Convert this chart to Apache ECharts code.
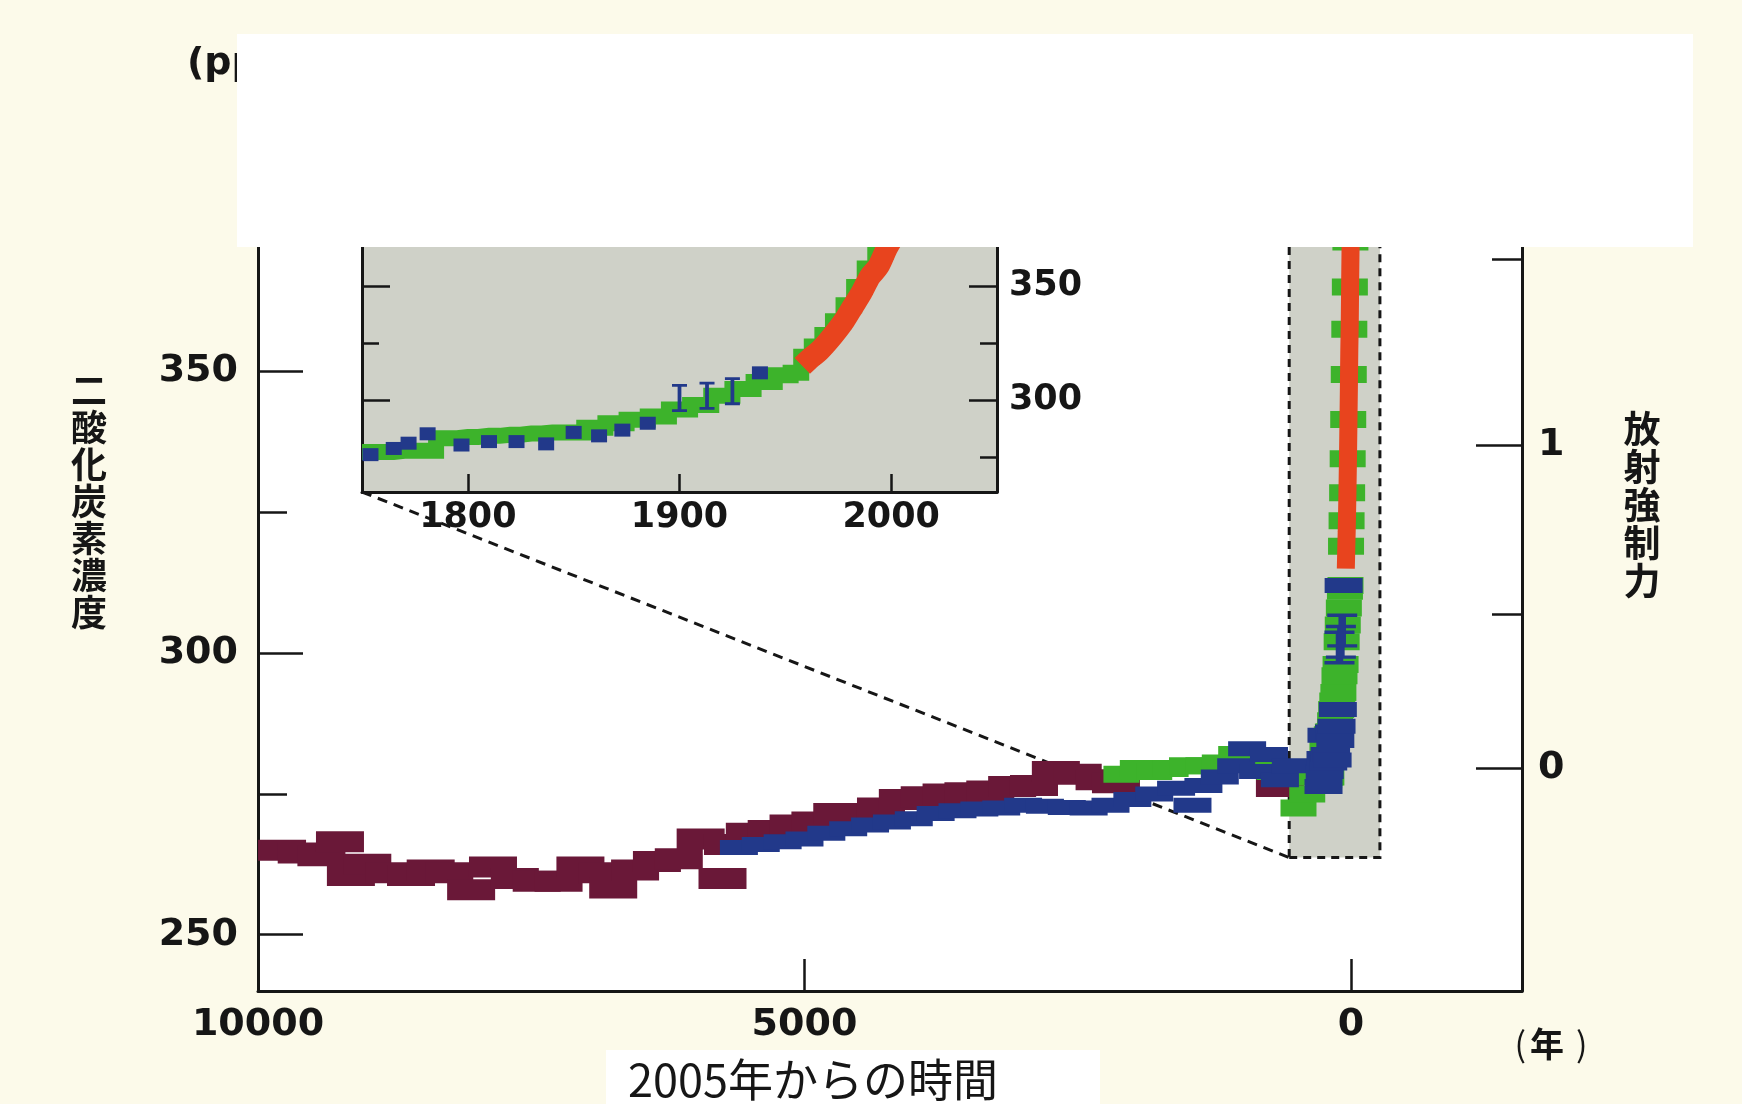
<!DOCTYPE html>
<html>
<head>
<meta charset="utf-8">
<script src="https://cdn.jsdelivr.net/npm/echarts@6/dist/echarts.min.js"></script>
<style>
  html, body { margin: 0; padding: 0; background: #fcfaea; }
  #chart { width: 1742px; height: 1104px; }
</style>
</head>
<body>
<div id="chart"></div>
<script>
// ice core CO2, x = years before 2005
const maroonYears = [9780, 9600, 9420, 9250, 9150, 9000, 8800, 8600, 8420, 8250, 8050, 7850, 7650, 7450, 7250, 7050,
  6850, 6750, 6550, 6350, 6150, 5950, 5750, 5700, 5500, 5300, 5100, 4900, 4700, 4500, 4300, 4100, 3900, 3700, 3500,
  3300, 3100, 2900, 2700, 2500, 2300, 2150, 650];
const maroonCO2 = [265, 264.5, 264, 266.5, 260.5, 262.5, 261, 260.5, 261.5, 261, 258, 262, 260, 259.5, 259.5, 262,
  261, 258.3, 261.5, 263, 263.5, 267, 260, 266, 268, 268.5, 269.5, 270, 271.5, 271, 272.5, 274, 274.5, 275, 275.2,
  275.5, 276.3, 276.5, 279, 278.5, 277.5, 277, 276.3];

const blueYears = [5600, 5400, 5200, 5000, 4800, 4600, 4400, 4200, 4000, 3800, 3600, 3400, 3200, 3000, 2800, 2600,
  2400, 2200, 2000, 1800, 1600, 1450, 1350, 1200, 1050, 950, 850, 750, 650, 550];
const blueCO2 = [265.5, 266, 266.5, 267, 268, 268.8, 269.5, 270, 270.6, 271.5, 272, 272.3, 272.5, 273, 272.8, 272.6,
  272.5, 273, 274, 275, 276, 273, 276.5, 278, 280, 283, 279, 282, 277.5, 280];

const greenYears = [2100, 1950, 1800, 1650, 1500, 1350, 1200, 1050, 950, 850, 700, 480, 400, 330];
const greenCO2 = [278.5, 279.5, 279, 279.5, 280, 280, 280.5, 282, 282.5, 280, 279, 272.5, 275, 278];

// recent record, calendar years (inset, and main chart near 0)
const greenRecentYr = [1750, 1760, 1770, 1780, 1790, 1800, 1810, 1820, 1830, 1840, 1850, 1860, 1870, 1880, 1890,
  1900, 1910, 1920, 1930, 1940, 1950, 1955, 1960, 1965, 1970, 1975, 1980, 1985, 1990, 1995, 2000];
const greenRecentCO2 = [277.5, 277.5, 278, 278, 283.5, 284, 284.5, 285, 285.5, 286, 286, 288, 290, 291.5, 293,
  296, 298, 302, 305, 308, 311, 312, 319, 323.5, 328.5, 334.5, 341.5, 349.5, 357.5, 365, 373];

const blueRecentYr = [1754, 1765, 1772, 1781, 1797, 1810, 1823, 1837, 1850, 1862, 1873, 1885, 1938];
const blueRecentCO2 = [276.3, 279, 281.3, 285.4, 280.5, 282, 282, 281, 286, 284.5, 287, 290, 312];

const blueBarYr = [1900, 1913, 1925];
const blueBarCO2 = [301, 302, 304];

const redYr = [1958, 1962, 1966, 1970, 1974, 1978, 1982, 1986, 1990, 1994, 1998, 2002, 2005];
const redCO2 = [315, 318.5, 321.5, 325.5, 330, 335, 341, 347, 354, 358.5, 366.5, 373, 379.5];

// tick labels
const mainXLabels = [0, 5000, 10000];
const mainXMinor = [2500, 7500];
const mainYLabels = [250, 300, 350];
const mainYMinor = [275, 325];
const forcingLabels = [0, 1];
const forcingMinor = [0.5, 1.5];
const insetXLabels = [1800, 1900, 2000];
const insetXMinor = [1850, 1950];
const insetYLabels = [300, 350];
const insetYMinor = [275, 325];

// shaded band around the last centuries in the main panel
const boxYears = [565, -265];
const boxCO2 = [263.7, 400];

const C0 = 279.5;
const rfToCO2 = rf => C0 * Math.exp(rf / 5.35);

const ink = '#161616';
const maroon = '#6a1838';
const navy = '#22398a';
const green = '#3db32b';
const red = '#e8441e';
const gray = '#cfd1c8';
const ibeam = 'path://M0,0H12V3H7.5V27H12V30H0V27H4.5V3H0Z';

const toBP = yr => 2005 - yr;
const pair = (xs, ys) => xs.map((x, i) => [x, ys[i]]);
const pairBP = (xs, ys) => xs.map((x, i) => [toBP(x), ys[i]]);

const numLabel = (vals, size, margin, extra) => Object.assign({
  customValues: vals, margin: margin, fontSize: size,
  fontFamily: 'DejaVu Sans', fontWeight: 'bold', color: ink,
  formatter: v => String(v)
}, extra || {});

const tickStyle = { color: ink, width: 2.5 };

function xAx(grid, min, max, inverse, ticks, len, label, line) {
  return {
    type: 'value', gridIndex: grid, min: min, max: max, inverse: inverse,
    axisLine: { show: line, onZero: false, lineStyle: { color: ink, width: 3 } },
    splitLine: { show: false },
    axisTick: { inside: true, length: len, customValues: ticks, lineStyle: tickStyle },
    axisLabel: label || { show: false }
  };
}
function yAx(grid, pos, min, max, ticks, len, label, line) {
  return {
    type: 'value', gridIndex: grid, position: pos, min: min, max: max,
    axisLine: { show: line, onZero: false, lineStyle: { color: ink, width: 3 } },
    splitLine: { show: false },
    axisTick: { inside: true, length: len, customValues: ticks, lineStyle: tickStyle },
    axisLabel: label || { show: false }
  };
}

const xMin = -1565, xMax = 10000;
const yMin = 240, yMax = 400;
const insetX = [1750, 2050];
const insetY = [260, 380];

const chart = echarts.init(document.getElementById('chart'));

const solid = c => ({ color: c, opacity: 1 });

const option = {
  backgroundColor: '#fcfaea',
  animation: false,
  grid: [
    { left: 258, right: 220, top: 90, bottom: 113, show: true, backgroundColor: '#ffffff', borderWidth: 0 },
    { left: 362, right: 745, top: 217, bottom: 612, show: true, backgroundColor: gray, borderWidth: 0 }
  ],
  xAxis: [
    xAx(0, xMin, xMax, true, mainXLabels, 32, numLabel(mainXLabels, 38, 15), true),
    xAx(0, xMin, xMax, true, mainXMinor, 20, null, false),
    xAx(1, insetX[0], insetX[1], false, insetXLabels, 18, numLabel(insetXLabels, 35, 8), true),
    xAx(1, insetX[0], insetX[1], false, insetXMinor, 11, null, false)
  ],
  yAxis: [
    yAx(0, 'left', yMin, yMax, mainYLabels, 45, numLabel(mainYLabels, 38, 20), true),
    yAx(0, 'left', yMin, yMax, mainYMinor, 29, null, false),
    yAx(0, 'right', yMin, yMax, forcingLabels.map(rfToCO2), 46,
      numLabel(forcingLabels.map(rfToCO2), 38, 16, {
        formatter: v => String(Math.round(5.35 * Math.log(v / C0)))
      }), true),
    yAx(0, 'right', yMin, yMax, forcingMinor.map(rfToCO2), 30, null, false),
    yAx(1, 'left', insetY[0], insetY[1], insetYLabels, 28, null, true),
    yAx(1, 'left', insetY[0], insetY[1], insetYMinor, 17, null, false),
    yAx(1, 'right', insetY[0], insetY[1], insetYLabels, 28, numLabel(insetYLabels, 35, 12), true),
    yAx(1, 'right', insetY[0], insetY[1], insetYMinor, 17, null, false)
  ],
  series: [
    {
      type: 'scatter', xAxisIndex: 0, yAxisIndex: 0, data: [], z: 1, silent: true,
      markArea: {
        silent: true,
        itemStyle: { color: gray, opacity: 1, borderColor: ink, borderWidth: 3, borderType: [8, 6] },
        data: [[{ coord: [boxYears[0], boxCO2[0]] }, { coord: [boxYears[1], boxCO2[1]] }]]
      }
    },
    {
      type: 'scatter', xAxisIndex: 0, yAxisIndex: 0, z: 2, silent: true,
      symbol: 'rect', symbolSize: [48, 21], itemStyle: solid(maroon),
      data: pair(maroonYears, maroonCO2)
    },
    {
      type: 'scatter', xAxisIndex: 0, yAxisIndex: 0, z: 3, silent: true,
      symbol: 'rect', symbolSize: [36, 17], itemStyle: solid(green),
      data: pair(greenYears, greenCO2).concat(pairBP(greenRecentYr, greenRecentCO2))
    },
    {
      type: 'scatter', xAxisIndex: 0, yAxisIndex: 0, z: 4, silent: true,
      symbol: 'rect', symbolSize: [38, 15], itemStyle: solid(navy),
      data: pair(blueYears, blueCO2).concat(pairBP(blueRecentYr, blueRecentCO2))
    },
    {
      type: 'scatter', xAxisIndex: 0, yAxisIndex: 0, z: 4, silent: true,
      symbol: ibeam, symbolSize: [30, 34], itemStyle: solid(navy),
      data: pairBP(blueBarYr, blueBarCO2)
    },
    {
      type: 'line', xAxisIndex: 0, yAxisIndex: 0, z: 5, silent: true, showSymbol: false,
      lineStyle: { color: red, width: 18, cap: 'butt' },
      data: pairBP(redYr, redCO2)
    },
    // inset
    {
      type: 'line', xAxisIndex: 2, yAxisIndex: 4, z: 3, silent: true, showSymbol: false, step: 'middle',
      lineStyle: { color: green, width: 16, cap: 'butt', join: 'miter' },
      data: pair(greenRecentYr, greenRecentCO2)
    },
    {
      type: 'scatter', xAxisIndex: 2, yAxisIndex: 4, z: 4, silent: true,
      symbol: 'rect', symbolSize: [16, 13], itemStyle: solid(navy),
      data: pair(blueRecentYr, blueRecentCO2)
    },
    {
      type: 'scatter', xAxisIndex: 2, yAxisIndex: 4, z: 4, silent: true,
      symbol: ibeam, symbolSize: [15, 28], itemStyle: solid(navy),
      data: pair(blueBarYr, blueBarCO2)
    },
    {
      type: 'line', xAxisIndex: 2, yAxisIndex: 4, z: 5, silent: true, showSymbol: false, smooth: 0.3,
      lineStyle: { color: red, width: 22, cap: 'butt' },
      data: pair(redYr, redCO2)
    }
  ]
};

chart.setOption(option);

// dashed guide from the inset corner to the shaded band
const p1 = chart.convertToPixel({ xAxisIndex: 2, yAxisIndex: 4 }, [insetX[0], insetY[0]]);
const p2 = chart.convertToPixel({ xAxisIndex: 0, yAxisIndex: 0 }, [boxYears[0], boxCO2[0]]);

const cjk = '"Noto Sans CJK JP", sans-serif';

chart.setOption({
  graphic: [
    {
      type: 'line', z: 1, silent: true,
      shape: { x1: p1[0], y1: p1[1], x2: p2[0], y2: p2[1] },
      style: { stroke: ink, lineWidth: 3, lineDash: [10, 7] }
    },
    {
      type: 'text', z: 50, x: 187, y: 64, silent: true,
      style: { text: '(ppm)', font: 'bold 38px "DejaVu Sans"', fill: ink, verticalAlign: 'middle' }
    },
    {
      type: 'rect', z: 100, silent: true,
      shape: { x: 237, y: 34, width: 1456, height: 213 },
      style: { fill: '#ffffff' }
    },
    {
      type: 'rect', z: 100, silent: true,
      shape: { x: 606, y: 1050, width: 494, height: 54 },
      style: { fill: '#ffffff' }
    },
    {
      type: 'text', z: 101, x: 813, y: 1080, silent: true,
      style: { text: '2005年からの時間', font: 'normal 45px ' + cjk, fill: ink, align: 'center', verticalAlign: 'middle' }
    },
    {
      type: 'text', z: 50, x: 89, y: 501, silent: true,
      style: {
        text: '二\n酸\n化\n炭\n素\n濃\n度', font: 'bold 36px ' + cjk, lineHeight: 37,
        fill: ink, align: 'center', verticalAlign: 'middle'
      }
    },
    {
      type: 'text', z: 50, x: 1642, y: 505, silent: true,
      style: {
        text: '放\n射\n強\n制\n力', font: 'bold 37px ' + cjk, lineHeight: 38,
        fill: ink, align: 'center', verticalAlign: 'middle'
      }
    },
    {
      type: 'text', z: 50, x: 1551, y: 1044, silent: true,
      style: {
        text: '{p|(}{k|年}{p|)}', fill: ink, align: 'center', verticalAlign: 'middle',
        rich: {
          p: { font: 'normal 34px ' + cjk, fill: ink },
          k: { font: 'bold 34px ' + cjk, fill: ink, padding: [0, 12, 0, 4] }
        }
      }
    }
  ]
});
</script>
</body>
</html>
